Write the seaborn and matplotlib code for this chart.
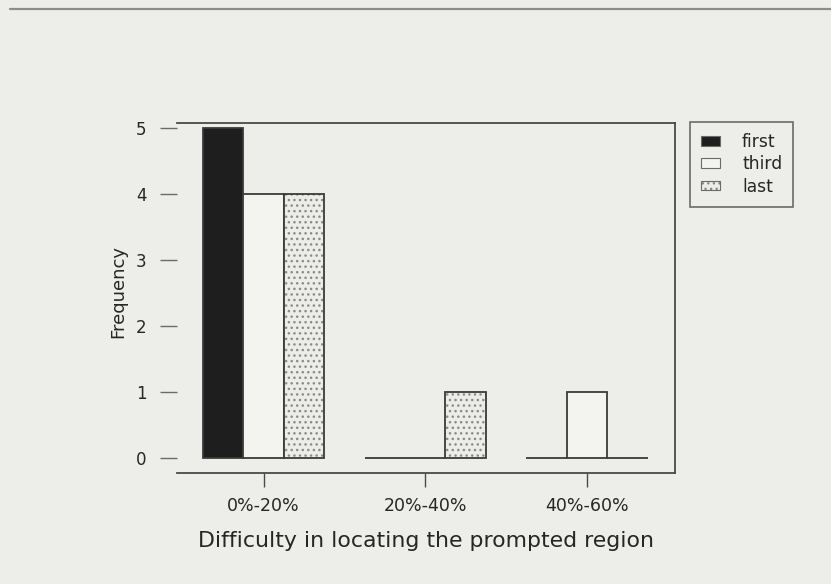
import matplotlib
matplotlib.use("Agg")
import matplotlib.pyplot as plt
import matplotlib.colors as mcolors
from matplotlib.lines import Line2D
from matplotlib.patches import Patch
import seaborn as sns
import pandas as pd

# Data
categories = ["0%-20%", "20%-40%", "40%-60%"]
sessions = ["first", "third", "last"]
first = [5, 0, 0]
third = [4, 0, 1]
last = [4, 1, 0]
y_ticks = [0, 1, 2, 3, 4, 5]

df = pd.DataFrame({
    "difficulty": categories * 3,
    "session": ["first"] * 3 + ["third"] * 3 + ["last"] * 3,
    "frequency": first + third + last,
})

sns.set_theme(style="ticks")
plt.rcParams["font.family"] = ["DejaVu Sans"]

paper = "#ededE9"
ink = "#262626"
fills = {"first": "#1e1e1e", "third": "#f3f3ef", "last": "#ecece8"}
hatches = {"first": "", "third": "", "last": "..."}
hatch_colors = {"first": ink, "third": "#b0b0ac", "last": "#8a8a86"}

fig = plt.figure(figsize=(8.31, 5.84), dpi=100, facecolor=paper)
ax = fig.add_axes([177 / 831, 1 - 473 / 584, (675 - 177) / 831, (473 - 123) / 584])
ax.set_facecolor(paper)

sns.barplot(
    data=df, x="difficulty", y="frequency", hue="session",
    order=categories, hue_order=sessions, palette=fills,
    width=0.75, edgecolor="#3a3a3a", linewidth=1.3, legend=False,
    ax=ax,
)

for level, container in zip(sessions, ax.containers):
    for bar in container:
        bar.set_hatch(hatches[level])
        bar._hatch_color = mcolors.to_rgba(hatch_colors[level])

ax.set_xlim(-0.535, 2.545)
ax.set_ylim(-0.228, 5.08)
ax.set_yticks(y_ticks)

for side in ("top", "right", "bottom"):
    ax.spines[side].set_visible(True)
    ax.spines[side].set_color("#4a4a4a")
    ax.spines[side].set_linewidth(1.3)
ax.spines["left"].set_visible(False)

ax.tick_params(axis="y", direction="out", length=12, width=1.0, color="#6a6a6a",
               pad=10, labelsize=12, labelcolor=ink)
ax.tick_params(axis="x", direction="out", length=10, width=1.0, color="#4a4a4a",
               pad=7, labelsize=12.5, labelcolor=ink)

ax.set_xlabel("Difficulty in locating the prompted region", fontsize=15.8, color=ink)
ax.set_ylabel("Frequency", fontsize=13, color=ink)
ax.xaxis.set_label_coords(0.50, -0.195)
ax.yaxis.set_label_coords(-0.118, 0.52)
ax.xaxis.label.set_va("center")
ax.yaxis.label.set_va("center")

handles = [
    Patch(facecolor=fills[s], edgecolor="#6a6a6a", linewidth=0.8,
          hatch=hatches[s]) for s in sessions
]
for s, h in zip(sessions, handles):
    h._hatch_color = mcolors.to_rgba(hatch_colors[s])

leg = fig.legend(
    handles, sessions, loc="upper left",
    bbox_to_anchor=(690 / 831, 1 - 122 / 584), bbox_transform=fig.transFigure,
    frameon=True, fancybox=False, borderaxespad=0, fontsize=12.3,
    handlelength=1.1, handleheight=0.5, handletextpad=1.3,
    labelspacing=0.25, borderpad=0.65,
)
leg.get_frame().set_edgecolor("#4a4a4a")
leg.get_frame().set_linewidth(1.2)
leg.get_frame().set_facecolor(paper)
for t in leg.get_texts():
    t.set_color(ink)

# Rule across the top of the page
fig.add_artist(Line2D([10 / 831, 1.0], [1 - 9 / 584] * 2, transform=fig.transFigure,
                      color="#8c8c8c", linewidth=1.6))

fig.savefig("out.png", dpi=100, facecolor=paper)
